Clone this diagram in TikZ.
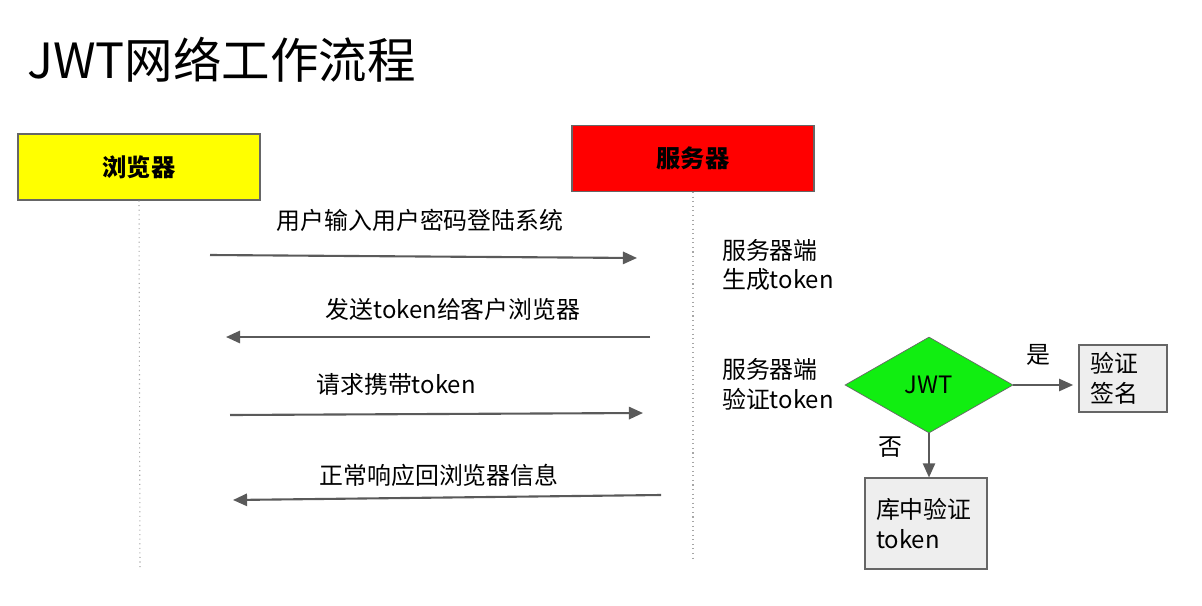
\documentclass[tikz,border=0pt]{standalone}
\usepackage{fontspec}
\setmainfont{Noto Sans CJK SC}
\usetikzlibrary{arrows.meta,positioning,shapes.geometric}
\definecolor{jwYellow}{HTML}{FFFF00}
\definecolor{jwRed}{HTML}{FF0000}
\definecolor{jwGreen}{HTML}{11EE11}
\definecolor{jwGray}{HTML}{EEEEEE}
\definecolor{jwLine}{HTML}{5A5A5A}
\tikzset{
  jwHead/.style={draw=gray!80!black, line width=0.7pt, inner sep=0pt,
    minimum width=4.84cm, minimum height=1.32cm,
    font=\fontsize{13.8}{16}\selectfont\bfseries},
  jwBrowser/.style={jwHead, fill=jwYellow},
  jwServer/.style={jwHead, fill=jwRed},
  %% Lifelines and messages
  jwlife/.style={dotted, gray!70, line width=0.6pt},
  jwmsg/.style={-{Triangle[length=8pt, width=7pt]}, draw=jwLine, line width=1.2pt},
  jwlabel/.style={font=\fontsize{13.6}{17}\selectfont, inner sep=1pt},
  %% Notes beside the server
  jwnote/.style={font=\fontsize{13.6}{17}\selectfont, align=left, anchor=west, inner sep=1pt},
  %% Decision part
  jwDec/.style={diamond, draw=gray!80!black, fill=jwGreen, aspect=1.75, inner sep=0pt,
    minimum width=3.36cm, minimum height=1.92cm, font=\fontsize{13.6}{16}\selectfont},
  jwStep/.style={draw=gray!80!black, fill=jwGray, line width=0.7pt, inner sep=0pt,
    align=left, font=\fontsize{13.6}{17}\selectfont},
}
\begin{document}
\begin{tikzpicture}[x=0.02cm, y=-0.02cm]
\useasboundingbox (0,0) rectangle (1202,605);

%% Title
\node[anchor=west, inner sep=0pt, font=\fontsize{27.6}{32}\selectfont] (title) at (27,60) {JWT网络工作流程};

%% Participants
\node[jwBrowser] (pBrowser) at (139,167) {浏览器};
\node[jwServer]  (pServer)  at (693,158.5) {服务器};

%% Lifelines
\coordinate (lBrowser) at (140,568);
\coordinate (lServer)  at (693,558);
\draw[jwlife] (pBrowser.south) -- (lBrowser);
\draw[jwlife] (pServer.south) -- (lServer);

%% Messages
\coordinate (m1a) at (210,255); \coordinate (m1b) at (637,258);
\coordinate (m2a) at (650,337); \coordinate (m2b) at (226,337);
\coordinate (m3a) at (230,415); \coordinate (m3b) at (643,413);
\coordinate (m4a) at (661,495); \coordinate (m4b) at (233,500);
\draw[jwmsg] (m1a) -- (m1b);
\draw[jwmsg] (m2a) -- (m2b);
\draw[jwmsg] (m3a) -- (m3b);
\draw[jwmsg] (m4a) -- (m4b);
\node[jwlabel] (t1) at (420,220) {用户输入用户密码登陆系统};
\node[jwlabel] (t2) at (453,309) {发送token给客户浏览器};
\node[jwlabel] (t3) at (396,384) {请求携带token};
\node[jwlabel] (t4) at (439,475) {正常响应回浏览器信息};

%% Server side notes
\node[jwnote] (nGen)   at (720,265) {服务器端\\生成token};
\node[jwnote] (nCheck) at (720,384) {服务器端\\验证token};

%% Decision
\node[jwDec] (dJwt) at (929,385) {JWT};
\node[jwStep, minimum width=1.76cm, minimum height=1.34cm, text width=1.3cm] (sSign) at (1123,378.5) {验证\\签名};
\node[jwStep, minimum width=2.44cm, minimum height=1.82cm, text width=2.0cm] (sLib) at (926,523.5) {库中验证\\token};
\draw[jwmsg, line width=0.9pt, shorten >=3pt] (dJwt.east) -- (dJwt.east -| sSign.west);
\draw[jwmsg, line width=0.9pt] (dJwt.south) -- (dJwt.south |- sLib.north);
\node[jwlabel] (lYes) at (1038,355) {是};
\node[jwlabel] (lNo)  at (890,447) {否};

\end{tikzpicture}
\end{document}
